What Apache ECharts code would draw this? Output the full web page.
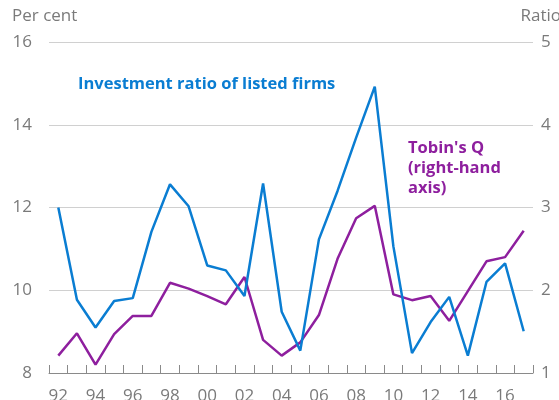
<!DOCTYPE html>
<html>
<head>
<meta charset="utf-8">
<script src="https://cdn.jsdelivr.net/npm/echarts@6/dist/echarts.min.js"></script>
<style>
  html, body { margin: 0; padding: 0; background: #fff; }
  #main { width: 559px; height: 400px; }
</style>
</head>
<body>
<div id="main"></div>
<script>
// years 1992-2017, shown as two digits
var years = ["92","93","94","95","96","97","98","99","00","01","02","03","04",
             "05","06","07","08","09","10","11","12","13","14","15","16","17"];
// investment ratio of listed firms, per cent (left axis)
var investment = [12.0, 9.77, 9.1, 9.74, 9.81, 11.41, 12.56, 12.03, 10.6, 10.48, 9.86, 12.58, 9.48,
                  8.54, 11.23, 12.4, 13.69, 14.92, 11.06, 8.48, 9.23, 9.84, 8.42, 10.2, 10.65, 9.01];
// Tobin's Q, ratio (right axis)
var tobinsQ = [1.21, 1.48, 1.1, 1.47, 1.69, 1.69, 2.09, 2.02, 1.93, 1.83, 2.16, 1.4, 1.21,
               1.37, 1.7, 2.38, 2.87, 3.02, 1.95, 1.88, 1.93, 1.63, 1.99, 2.35, 2.4, 2.72];

var blue = "#0a7dd2";
var purple = "#8e1f9e";
var grey = "#7a7a7a";
var font = "Open Sans";

var chartDom = document.getElementById("main");
var myChart = echarts.init(chartDom);
var option;

option = {
  animation: false,
  textStyle: { fontFamily: font },
  grid: { left: 49, right: 26, top: 42, bottom: 27, containLabel: false, outerBoundsMode: "none" },
  graphic: [
    { type: "text", left: 12, top: 8,
      style: { text: "Per cent", fill: grey, font: "17px " + font } },
    { type: "text", right: -2, top: 8,
      style: { text: "Ratio", fill: grey, font: "17px " + font } },
    { type: "text", left: 78, top: 76,
      style: { text: "Investment ratio of listed firms", fill: blue, font: "bold 16.5px " + font } },
    { type: "text", left: 408, top: 138,
      style: { text: "Tobin's Q\n(right-hand\naxis)", fill: purple, font: "bold 16.5px " + font, lineHeight: 20 } }
  ],
  xAxis: {
    type: "category",
    data: years,
    boundaryGap: true,
    axisLine: { lineStyle: { color: "#8a8a8a", width: 1 } },
    axisTick: { show: true, inside: true, length: 8, interval: 0, lineStyle: { color: "#8a8a8a" } },
    axisLabel: { interval: 1, color: grey, fontSize: 17, margin: 15, fontFamily: font },
    splitLine: { show: false }
  },
  yAxis: [
    {
      type: "value", min: 8, max: 16, interval: 2,
      axisLine: { show: false }, axisTick: { show: false },
      axisLabel: { color: grey, fontSize: 17, margin: 17, fontFamily: font },
      splitLine: { lineStyle: { color: "#d0d0d0", width: 1 } }
    },
    {
      type: "value", min: 1, max: 5, interval: 1,
      axisLine: { show: false }, axisTick: { show: false },
      axisLabel: { color: grey, fontSize: 17, margin: 8, fontFamily: font },
      splitLine: { show: false }
    }
  ],
  series: [
    {
      name: "Investment ratio of listed firms",
      type: "line",
      data: investment,
      yAxisIndex: 0,
      symbol: "none",
      lineStyle: { color: blue, width: 2.5 },
      z: 3
    },
    {
      name: "Tobin's Q",
      type: "line",
      data: tobinsQ,
      yAxisIndex: 1,
      symbol: "none",
      lineStyle: { color: purple, width: 2.5 },
      z: 2
    }
  ]
};

myChart.setOption(option);
</script>
</body>
</html>
